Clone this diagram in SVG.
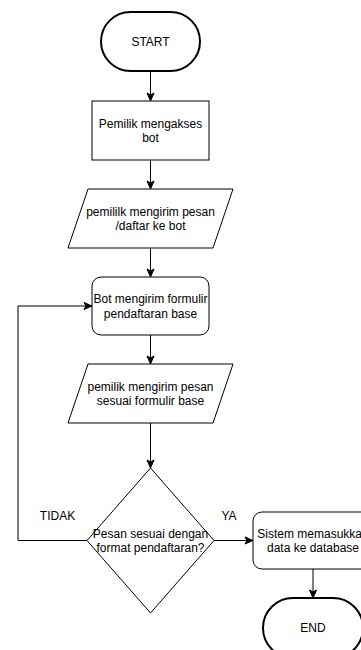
<svg xmlns="http://www.w3.org/2000/svg" width="361" height="650" viewBox="0 0 361 650">
<style>
  .shape { fill: #ffffff; stroke: #000000; stroke-width: 1; }
  .term { fill: #ffffff; stroke: #000000; stroke-width: 2; }
  .lbl { font-family: "Liberation Sans", Arial, Helvetica, sans-serif; font-size: 12px; fill: #000000; text-anchor: middle; }
  .edge { fill: none; stroke: #000000; stroke-width: 1; }
</style>
<defs>
  <marker id="arrow" markerUnits="userSpaceOnUse" markerWidth="10" markerHeight="10" viewBox="0 0 10 10" refX="9" refY="5" orient="auto">
    <path d="M1,1.5 L9,5 L1,8.5 L3,5 Z" fill="#000000" stroke="#000000" stroke-width="1"/>
  </marker>
</defs>
<rect width="361" height="650" fill="#ffffff"/>

<g id="connectors">
  <path class="edge" d="M150.5,71 L150.5,101" marker-end="url(#arrow)"/>
  <path class="edge" d="M150.5,160 L150.5,189" marker-end="url(#arrow)"/>
  <path class="edge" d="M150.5,248 L150.5,277" marker-end="url(#arrow)"/>
  <path class="edge" d="M150.5,335 L150.5,364" marker-end="url(#arrow)"/>
  <path class="edge" d="M150.5,423 L150.5,468" marker-end="url(#arrow)"/>
  <path class="edge" d="M214,540.5 L253,540.5" marker-end="url(#arrow)"/>
  <path class="edge" d="M87,540.5 L18,540.5 L18,306 L92,306" marker-end="url(#arrow)"/>
  <path class="edge" d="M313,569 L313,598" marker-end="url(#arrow)"/>
  <text class="lbl" x="57.5" y="519.5">TIDAK</text>
  <text class="lbl" x="229" y="519.5">YA</text>
</g>

<g id="start">
  <rect class="term" x="101" y="12" width="99" height="59" rx="29.5" ry="29.5"/>
  <text class="lbl" x="150.5" y="45.8">START</text>
</g>

<g id="akses">
  <rect class="shape" x="92" y="101" width="117" height="59"/>
  <text class="lbl" x="150.5" y="127.6">Pemilik mengakses</text>
  <text class="lbl" x="150.5" y="142">bot</text>
</g>

<g id="kirim-daftar">
  <polygon class="shape" points="88,189 233,189 213,248 68,248"/>
  <text class="lbl" x="150.5" y="216">pemililk mengirim pesan</text>
  <text class="lbl" x="150.5" y="230.4">/daftar ke bot</text>
</g>

<g id="formulir">
  <rect class="shape" x="92" y="277" width="117" height="58" rx="9" ry="9"/>
  <text class="lbl" x="150.5" y="303.1">Bot mengirim formulir</text>
  <text class="lbl" x="150.5" y="317.5">pendaftaran base</text>
</g>

<g id="kirim-formulir">
  <polygon class="shape" points="88,364 233,364 213,423 68,423"/>
  <text class="lbl" x="150.5" y="391">pemilik mengirim pesan</text>
  <text class="lbl" x="150.5" y="405.4">sesuai formulir base</text>
</g>

<g id="cek">
  <polygon class="shape" points="150.5,468 214,540.5 150.5,613 87,540.5"/>
  <text class="lbl" x="150.5" y="537.6">Pesan sesuai dengan</text>
  <text class="lbl" x="150.5" y="552">format pendaftaran?</text>
</g>

<g id="simpan">
  <rect class="shape" x="253" y="512" width="120" height="57" rx="9" ry="9"/>
  <text class="lbl" x="313" y="537.6">Sistem memasukkan</text>
  <text class="lbl" x="313" y="552">data ke database</text>
</g>

<g id="end">
  <rect class="term" x="263" y="598" width="100" height="60" rx="30" ry="30"/>
  <text class="lbl" x="313" y="632.3">END</text>
</g>
</svg>
